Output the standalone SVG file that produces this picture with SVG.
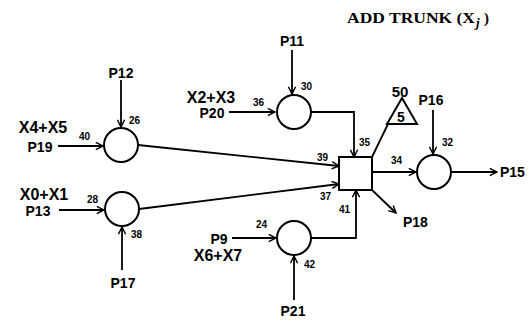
<svg xmlns="http://www.w3.org/2000/svg" width="529" height="328" viewBox="0 0 529 328">
<defs>
<marker id="ah" viewBox="0 0 10 10" refX="9" refY="5" markerWidth="9" markerHeight="9" markerUnits="userSpaceOnUse" orient="auto">
<path d="M1,1 L9,5 L1,9" fill="none" stroke="#000" stroke-width="1.6"/>
</marker>
<style>
.n{fill:#fff;stroke:#000;stroke-width:2}
.c{fill:none;stroke:#000;stroke-width:1.8}
.a{marker-end:url(#ah)}
.t{font-family:"Liberation Sans",Arial,sans-serif;font-weight:bold;fill:#000}
.h{font-family:"Liberation Serif","Times New Roman",serif;font-weight:bold;fill:#000}
.p{font-size:14px}
.x{font-size:16px}
.s{font-size:10px}
</style>
</defs>
<rect width="529" height="328" fill="#fff"/>
<g id="title">
<text class="h" x="347" y="23" style="font-size:15px" textLength="128" lengthAdjust="spacingAndGlyphs">ADD TRUNK (X</text>
<text class="h" x="476" y="27" style="font-size:13px;font-style:italic">j</text>
<text class="h" x="484" y="23" style="font-size:15px">)</text>
</g>

<g id="connectors">
<line class="c a" x1="121" y1="80" x2="121" y2="127"/>
<line class="c a" x1="58" y1="146" x2="103" y2="146"/>
<line class="c a" x1="59" y1="210" x2="104" y2="210"/>
<line class="c a" x1="122" y1="270" x2="122" y2="227"/>
<line class="c a" x1="292" y1="50" x2="292" y2="94"/>
<line class="c a" x1="229" y1="112" x2="275" y2="112"/>
<line class="c a" x1="232" y1="238" x2="276" y2="238"/>
<line class="c a" x1="294" y1="300" x2="294" y2="256"/>
<line class="c a" x1="138" y1="145" x2="339" y2="166"/>
<line class="c a" x1="139" y1="209" x2="339" y2="184"/>
<polyline class="c a" points="311,112 354,112 354,157"/>
<polyline class="c a" points="311,238 356,238 356,190"/>
<line class="c" x1="372" y1="157" x2="388" y2="124"/>
<line class="c a" x1="372" y1="190" x2="396" y2="213"/>
<line class="c a" x1="372" y1="172" x2="416" y2="172"/>
<line class="c a" x1="433" y1="110" x2="433" y2="154"/>
<line class="c a" x1="451" y1="172" x2="497" y2="172"/>
</g>

<g id="n1"><circle class="n" cx="121" cy="145" r="17"/></g>
<g id="n2"><circle class="n" cx="122" cy="209" r="17"/></g>
<g id="n3"><circle class="n" cx="294" cy="112" r="17"/></g>
<g id="n4"><circle class="n" cx="294" cy="238" r="17"/></g>
<g id="n5"><rect class="n" x="339" y="157" width="33" height="33"/></g>
<g id="n6"><circle class="n" cx="434" cy="172" r="17"/></g>
<g id="n7"><polygon class="n" points="402,98 387,124 417,124"/>
<text class="t p" x="401" y="122" text-anchor="middle">5</text>
<text class="t" x="400" y="97" text-anchor="middle" style="font-size:15px">50</text></g>

<g id="labels">
<text class="t p" x="121" y="78" text-anchor="middle">P12</text>
<text class="t s" x="129" y="124">26</text>
<text class="t s" x="79" y="140">40</text>
<text class="t x" x="43" y="133" text-anchor="middle">X4+X5</text>
<text class="t p" x="40" y="152" text-anchor="middle">P19</text>
<text class="t x" x="44" y="200" text-anchor="middle">X0+X1</text>
<text class="t p" x="38" y="216" text-anchor="middle">P13</text>
<text class="t s" x="87" y="203">28</text>
<text class="t s" x="131" y="238">38</text>
<text class="t p" x="123" y="288" text-anchor="middle">P17</text>
<text class="t p" x="292" y="46" text-anchor="middle">P11</text>
<text class="t s" x="301" y="90">30</text>
<text class="t x" x="211" y="103" text-anchor="middle">X2+X3</text>
<text class="t p" x="212" y="118" text-anchor="middle">P20</text>
<text class="t s" x="253" y="106">36</text>
<text class="t s" x="359" y="146">35</text>
<text class="t s" x="317" y="161">39</text>
<text class="t s" x="320" y="200">37</text>
<text class="t s" x="339" y="213">41</text>
<text class="t s" x="256" y="228">24</text>
<text class="t s" x="304" y="268">42</text>
<text class="t p" x="219" y="244" text-anchor="middle">P9</text>
<text class="t x" x="218" y="261" text-anchor="middle">X6+X7</text>
<text class="t p" x="293" y="316" text-anchor="middle">P21</text>
<text class="t p" x="431" y="105" text-anchor="middle">P16</text>
<text class="t s" x="442" y="146">32</text>
<text class="t s" x="391" y="164">34</text>
<text class="t p" x="500" y="177">P15</text>
<text class="t p" x="403" y="227">P18</text>
</g>
</svg>
